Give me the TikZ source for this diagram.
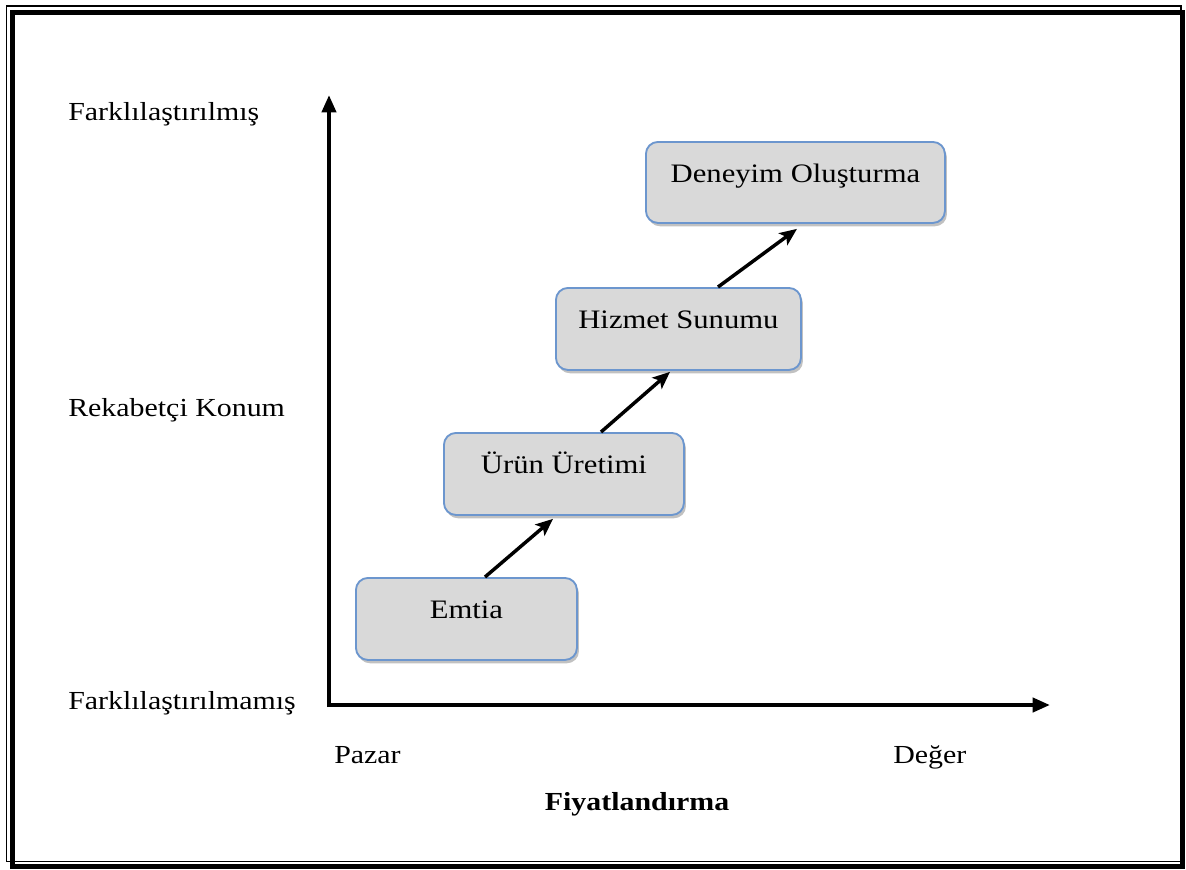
\documentclass[tikz,border=0pt]{standalone}
\usepackage{fontspec}
\setmainfont[FakeStretch=1.15]{Liberation Serif}
\usetikzlibrary{arrows.meta,shadows,calc}
\definecolor{boxfill}{RGB}{217,217,217}
\definecolor{boxline}{RGB}{108,150,206}
\tikzset{
  stagebox/.style={draw=boxline, line width=1.4pt, fill=boxfill, rounded corners=9pt,
    minimum height=61.5pt, text height=6pt, text depth=6pt, inner sep=0pt,
    font=\fontsize{20}{24}\selectfont, anchor=north west,
    drop shadow={shadow xshift=1.5pt, shadow yshift=-2.5pt, opacity=0.35, fill=black!70}},
  lbl/.style={font=\fontsize{19.5}{23}\selectfont, inner sep=0pt, anchor=base west},
  axisline/.style={line width=3pt, -{Triangle[length=13pt,width=10.5pt]}},
  steparrow/.style={line width=2.6pt, -{Stealth[length=13pt,width=11pt,inset=3pt]}},
}
\begin{document}
\begin{tikzpicture}[x=0.75pt,y=-0.75pt]
\useasboundingbox (0,0) rectangle (1186,869);
% frame
\draw[line width=1.1pt] (6.5,6) rectangle (1181,861.5);
\draw[line width=3.75pt] (12.5,12.5) rectangle (1182.5,866.5);
% axes
\coordinate (O) at (329,705);
\coordinate (ytop) at (329,95);
\coordinate (xend) at (1050,705);
\draw[axisline] ($(O)+(0,2)$) -- (ytop);
\draw[axisline] ($(O)+(-2,0)$) -- (xend);
% boxes
\node[stagebox, minimum width=165.75pt] (emtia) at (355,577) {Emtia};
\node[stagebox, minimum width=180pt] (urun) at (443,432) {Ürün Üretimi};
\node[stagebox, minimum width=183.75pt] (hizmet) at (555,287) {Hizmet Sunumu};
\node[stagebox, minimum width=224.25pt, minimum height=60.75pt] (deneyim) at (645,141) {Deneyim Oluşturma};
% arrows
\draw[steparrow] ($(emtia.north west)+(130,0)$) -- ($(urun.south west)+(110,3)$);
\draw[steparrow] ($(urun.north west)+(158,0)$) -- ($(hizmet.south west)+(115,1)$);
\draw[steparrow] ($(hizmet.north west)+(163,0)$) -- ($(deneyim.south west)+(152,5)$);
% labels
\node[lbl] (ytoplbl) at (68,120) {Farklılaştırılmış};
\node[lbl] (ymidlbl) at (68,416) {Rekabetçi Konum};
\node[lbl] (ybotlbl) at (68,709) {Farklılaştırılmamış};
\node[lbl] (xleft) at (334,763) {Pazar};
\node[lbl] (xright) at (893,763) {Değer};
\node[lbl, anchor=base, font=\fontsize{19.5}{23}\selectfont\bfseries] (xtitle) at (637,810) {Fiyatlandırma};
\end{tikzpicture}
\end{document}
